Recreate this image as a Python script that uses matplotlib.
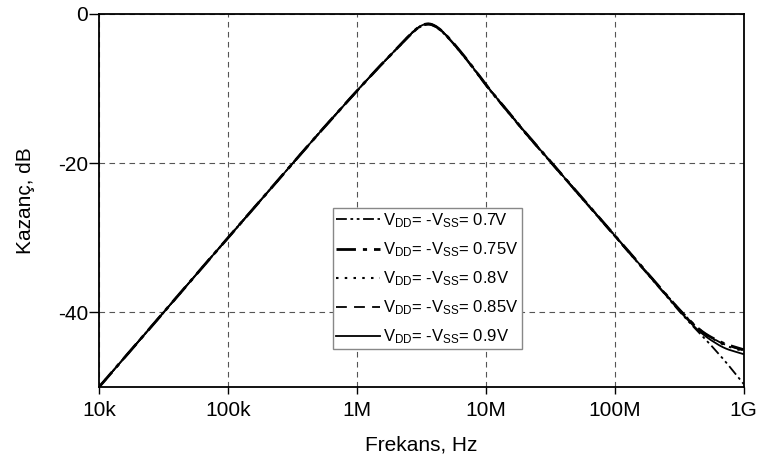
import numpy as np
import matplotlib
matplotlib.use('Agg')
import matplotlib.pyplot as plt

plt.rcParams['font.family'] = ['Liberation Sans', 'DejaVu Sans']
plt.rcParams['mathtext.fontset'] = 'custom'
plt.rcParams['mathtext.rm'] = 'Liberation Sans'
plt.rcParams['mathtext.it'] = 'Liberation Sans'
plt.rcParams['axes.unicode_minus'] = False

freq = [1e4, 2e4, 5e4, 1e5, 2e5, 5e5, 1e6, 1.5e6, 2e6, 2.5e6, 3e6, 3.4e6, 4e6,
        5e6, 7e6, 1e7, 2e7, 5e7, 1e8, 2e8, 3e8, 4e8, 5e8, 7e8, 1e9]

gain_070 = [-50, -44, -36, -30, -24, -16.1, -10.3, -7.0, -4.8, -3.1, -1.8, -1.3, -1.5,
            -3.0, -6.0, -9.6, -15.9, -23.8, -29.8, -35.8, -39.4, -41.8, -43.5, -46.3, -49.6]
gain_075 = [-50, -44, -36, -30, -24, -16.1, -10.3, -7.0, -4.8, -3.0, -1.7, -1.2, -1.4,
            -2.9, -5.9, -9.5, -15.8, -23.7, -29.7, -35.7, -39.2, -41.5, -42.9, -44.2, -45.0]
gain_080 = [-50, -44, -36, -30, -24, -16.1, -10.3, -7.0, -4.8, -3.0, -1.7, -1.2, -1.4,
            -2.9, -5.9, -9.5, -15.8, -23.7, -29.7, -35.7, -39.2, -41.5, -42.9, -44.4, -45.2]
gain_085 = [-50, -44, -36, -30, -24, -16.1, -10.3, -7.0, -4.8, -3.0, -1.7, -1.2, -1.4,
            -2.9, -5.9, -9.5, -15.8, -23.7, -29.7, -35.7, -39.2, -41.5, -42.9, -44.3, -45.1]
gain_090 = [-50, -44, -36, -30, -24, -16.1, -10.3, -7.0, -4.8, -3.0, -1.7, -1.2, -1.4,
            -2.9, -5.9, -9.5, -15.8, -23.7, -29.7, -35.7, -39.3, -41.7, -43.2, -44.8, -45.6]

labels = ['0.7V', '0.75V', '0.8V', '0.85V', '0.9V']
xticks = [1e4, 1e5, 1e6, 1e7, 1e8, 1e9]
xtick_labels = ['10k', '100k', '1M', '10M', '100M', '1G']
yticks = [0, -20, -40]


def smooth(x, y, n=400):
    lx = np.log10(x)
    xs = np.linspace(lx[0], lx[-1], n)
    ys = np.interp(xs, lx, y)
    k = 9
    ker = np.ones(k) / k
    pad = np.concatenate([np.full(k // 2, ys[0]), ys, np.full(k // 2, ys[-1])])
    ys2 = np.convolve(pad, ker, mode='valid')
    ys2[:k] = ys[:k]
    ys2[-k:] = ys[-k:]
    return 10 ** xs, ys2


def main():
    fig = plt.figure(figsize=(7.62, 4.66), dpi=100)
    ax = fig.add_axes([0.13, 0.1695, 0.846, 0.8005])

    styles = [dict(linestyle=(0, (6, 2, 1.5, 2, 1.5, 2)), lw=1.3),
              dict(linestyle=(0, (7, 2.5, 1.5, 2.5)), lw=2.0),
              dict(linestyle=(0, (1.2, 3)), lw=1.5),
              dict(linestyle=(0, (6, 4)), lw=1.3),
              dict(linestyle='-', lw=1.3)]
    series = [gain_070, gain_075, gain_080, gain_085, gain_090]

    for g, lab, st in zip(series, labels, styles):
        xs, ys = smooth(freq, g)
        ax.plot(xs, ys, color='black',
                label=r'V$_{\mathrm{DD}}$= -V$_{\mathrm{SS}}$= ' + lab, **st)

    ax.set_xscale('log')
    ax.set_xlim(1e4, 1e9)
    ax.set_ylim(-50, 0)
    ax.set_xticks(xticks)
    ax.set_xticklabels(xtick_labels)
    ax.minorticks_off()
    ax.set_yticks(yticks)
    ax.tick_params(labelsize=15, direction='out', width=1)
    ax.tick_params(axis='x', length=5, pad=5)
    ax.tick_params(axis='y', length=7, pad=1)
    ax.grid(True, color='#555555', linestyle=(0, (5, 4)), lw=0.8)
    for s in ax.spines.values():
        s.set_linewidth(1.3)

    ax.set_xlabel('Frekans, Hz', fontsize=15, labelpad=11)
    ax.set_ylabel('Kazanç, dB', fontsize=15, labelpad=16)

    leg = ax.legend(loc='upper left', bbox_to_anchor=(333 / 762, 1 - 208 / 466),
                    bbox_transform=fig.transFigure, fontsize=12, frameon=True,
                    fancybox=False, edgecolor='#888888', framealpha=1,
                    handlelength=2.6, handletextpad=0.2, borderpad=0.2,
                    labelspacing=0.62, borderaxespad=0)
    leg.get_frame().set_linewidth(1.0)

    fig.savefig('out.png', dpi=100)


if __name__ == '__main__':
    main()
